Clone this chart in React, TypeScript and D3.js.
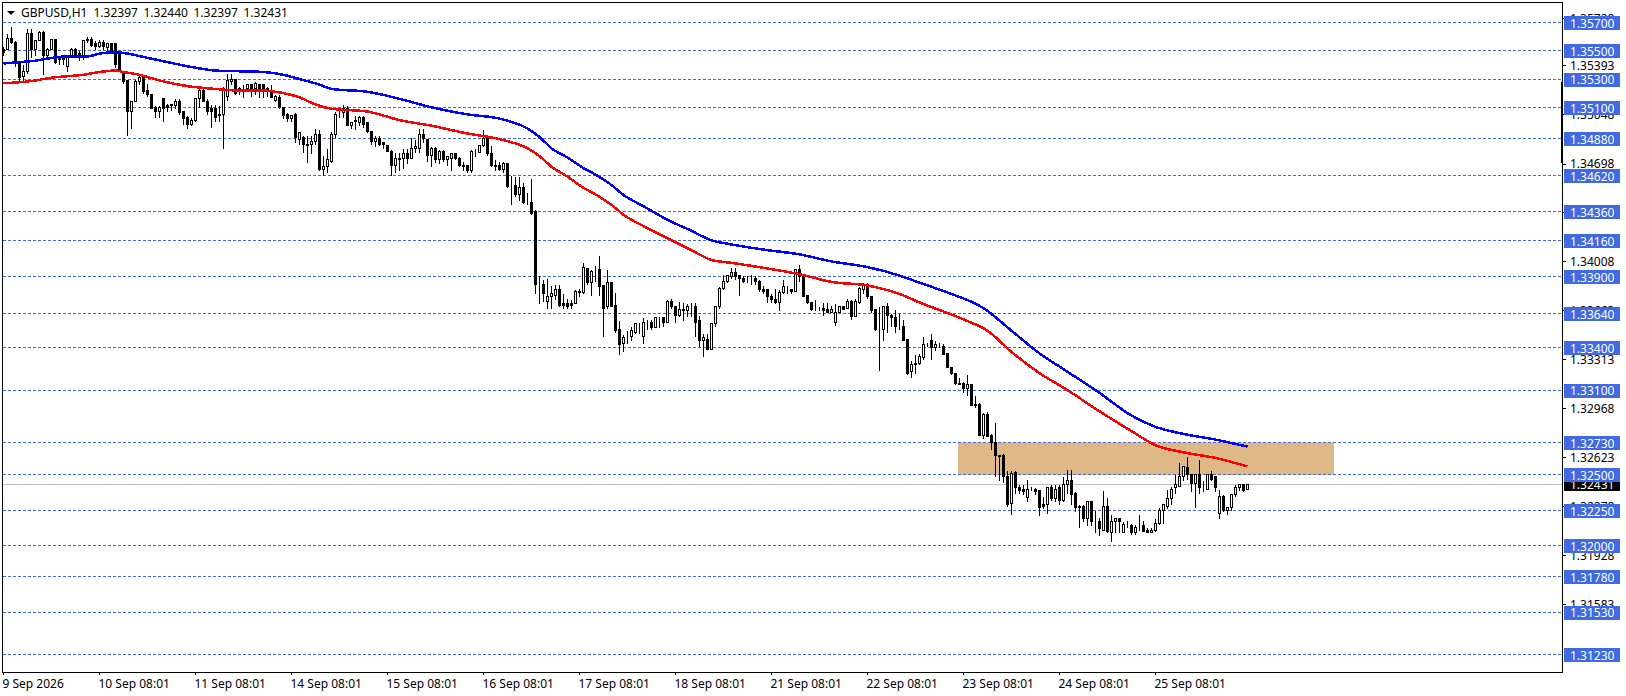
import * as d3 from "d3";

// prices are stored x 10000 (13551 = 1.3551), one row = 10 hourly bars
const opens = [
  13551,13551,13559,13556,13541,13532,13535,13562,13551,13557,
  13563,13547,13551,13558,13546,13546,13539,13546,13551,13548,
  13545,13557,13558,13555,13553,13556,13552,13555,13555,13548,
  13535,13529,13507,13514,13528,13531,13522,13519,13510,13507,
  13516,13511,13512,13511,13514,13507,13503,13498,13501,13516,
  13522,13514,13509,13509,13505,13505,13518,13528,13530,13523,
  13523,13523,13526,13523,13526,13526,13523,13522,13515,13517,
  13510,13505,13502,13505,13487,13489,13484,13484,13486,13491,
  13466,13468,13472,13491,13506,13506,13509,13497,13500,13499,
  13503,13499,13493,13486,13488,13485,13483,13479,13469,13474,
  13474,13477,13474,13481,13481,13491,13487,13476,13481,13473,
  13479,13473,13474,13477,13474,13469,13469,13465,13479,13478,
  13483,13489,13477,13469,13469,13466,13470,13455,13455,13448,
  13453,13443,13443,13436,13386,13385,13373,13376,13377,13381,
  13371,13371,13371,13371,13380,13379,13396,13386,13394,13395,
  13384,13369,13386,13370,13353,13343,13347,13348,13351,13357,
  13348,13358,13358,13354,13361,13361,13358,13373,13369,13363,
  13367,13366,13369,13369,13359,13345,13346,13339,13357,13369,
  13382,13387,13390,13393,13391,13389,13387,13388,13389,13387,
  13381,13381,13376,13374,13372,13379,13381,13381,13380,13395,
  13390,13377,13372,13367,13367,13368,13367,13365,13358,13365,
  13369,13368,13373,13362,13372,13381,13385,13376,13367,13353,
  13353,13369,13363,13361,13355,13355,13346,13323,13328,13329,
  13333,13342,13345,13340,13341,13341,13336,13326,13322,13315,
  13315,13311,13314,13300,13300,13278,13293,13278,13273,13264,
  13264,13249,13230,13252,13241,13240,13234,13241,13240,13239,
  13229,13229,13241,13233,13241,13232,13243,13246,13237,13228,
  13228,13219,13231,13217,13217,13211,13228,13209,13217,13219,
  13209,13215,13214,13209,13213,13214,13211,13209,13211,13216,
  13225,13228,13233,13241,13242,13249,13255,13250,13244,13250,
  13241,13240,13250,13249,13223,13235,13225,13227,13236,13241,13243,13240,
];
const closes = [
  13549,13559,13556,13541,13531,13535,13562,13551,13557,13563,
  13547,13551,13558,13542,13544,13544,13546,13551,13547,13546,
  13557,13558,13554,13553,13556,13553,13555,13549,13540,13535,
  13528,13507,13514,13528,13531,13521,13519,13509,13507,13510,
  13509,13510,13511,13514,13506,13502,13498,13501,13516,13522,
  13514,13507,13507,13503,13504,13522,13529,13530,13520,13522,
  13523,13526,13523,13527,13523,13523,13522,13517,13518,13510,
  13504,13502,13504,13489,13492,13484,13483,13486,13491,13466,
  13468,13473,13491,13505,13506,13509,13497,13499,13501,13503,
  13498,13493,13486,13488,13484,13484,13479,13469,13474,13473,
  13477,13474,13481,13482,13491,13488,13476,13481,13473,13479,
  13473,13475,13477,13474,13469,13468,13465,13479,13479,13483,
  13488,13477,13469,13468,13466,13470,13454,13455,13448,13453,
  13443,13443,13435,13385,13386,13378,13376,13378,13381,13370,
  13370,13369,13370,13380,13379,13397,13386,13394,13394,13383,
  13368,13386,13369,13352,13342,13347,13347,13352,13357,13357,
  13358,13358,13354,13361,13361,13358,13373,13369,13363,13367,
  13366,13369,13369,13358,13345,13347,13339,13357,13369,13382,
  13387,13391,13393,13390,13389,13387,13387,13388,13387,13381,
  13380,13376,13374,13372,13379,13383,13381,13380,13395,13390,
  13376,13372,13367,13367,13367,13366,13365,13367,13365,13369,
  13367,13373,13362,13373,13382,13385,13376,13366,13353,13353,
  13369,13363,13361,13355,13355,13345,13322,13328,13329,13334,
  13342,13342,13340,13342,13341,13335,13326,13322,13315,13314,
  13311,13314,13299,13299,13278,13293,13277,13273,13264,13263,
  13249,13229,13251,13241,13239,13238,13240,13241,13238,13227,
  13228,13241,13233,13240,13232,13243,13246,13236,13227,13227,
  13219,13231,13217,13217,13212,13228,13210,13217,13219,13217,
  13215,13215,13209,13213,13213,13210,13209,13211,13216,13225,
  13229,13233,13240,13243,13249,13256,13250,13244,13250,13241,
  13241,13250,13247,13241,13235,13225,13227,13236,13241,13243,13239,13243,
];
const highs = [
  13553,13562,13567,13557,13541,13540,13566,13566,13558,13564,
  13564,13552,13559,13559,13547,13547,13547,13552,13552,13550,
  13558,13560,13560,13557,13558,13558,13556,13556,13556,13549,
  13536,13530,13515,13530,13533,13533,13527,13519,13511,13511,
  13516,13513,13513,13516,13516,13507,13504,13503,13517,13525,
  13523,13516,13512,13512,13511,13525,13534,13534,13530,13525,
  13526,13527,13527,13528,13527,13527,13525,13526,13519,13519,
  13510,13506,13505,13506,13493,13490,13490,13490,13495,13494,
  13476,13481,13493,13507,13509,13512,13511,13499,13504,13504,
  13504,13499,13493,13490,13490,13486,13484,13480,13478,13478,
  13481,13481,13489,13487,13495,13495,13488,13482,13482,13480,
  13480,13475,13478,13478,13475,13472,13469,13480,13481,13484,
  13494,13490,13483,13473,13472,13472,13470,13462,13461,13461,
  13457,13450,13460,13438,13391,13388,13389,13384,13385,13385,
  13378,13375,13374,13381,13382,13400,13397,13395,13398,13405,
  13385,13395,13386,13379,13359,13349,13352,13355,13358,13358,
  13361,13360,13360,13362,13362,13361,13374,13375,13369,13373,
  13372,13371,13372,13372,13363,13350,13350,13358,13370,13383,
  13392,13392,13397,13397,13392,13391,13391,13392,13391,13388,
  13384,13382,13378,13382,13381,13388,13384,13382,13396,13399,
  13391,13377,13373,13374,13369,13372,13372,13370,13371,13370,
  13370,13375,13374,13375,13383,13386,13386,13377,13368,13369,
  13370,13372,13364,13367,13364,13360,13346,13331,13335,13336,
  13348,13344,13350,13345,13344,13343,13336,13326,13322,13319,
  13316,13321,13315,13306,13301,13294,13295,13279,13287,13264,
  13265,13253,13253,13253,13243,13243,13247,13242,13241,13240,
  13235,13242,13243,13243,13243,13249,13254,13254,13238,13229,
  13229,13232,13232,13225,13220,13239,13234,13222,13220,13220,
  13217,13218,13216,13215,13222,13218,13213,13213,13219,13227,
  13230,13240,13242,13250,13259,13257,13263,13251,13251,13261,
  13246,13251,13253,13249,13240,13236,13228,13237,13243,13244,13244,13244,
];
const lows = [
  13547,13551,13555,13539,13529,13528,13534,13545,13547,13557,
  13533,13545,13551,13541,13540,13540,13535,13546,13546,13543,
  13544,13556,13553,13551,13552,13551,13549,13548,13538,13535,
  13527,13490,13495,13514,13526,13520,13518,13509,13503,13503,
  13500,13507,13508,13509,13505,13498,13495,13497,13500,13510,
  13514,13505,13496,13500,13500,13481,13515,13526,13519,13519,
  13517,13522,13518,13519,13517,13517,13518,13517,13514,13509,
  13502,13500,13500,13485,13484,13478,13471,13477,13484,13465,
  13462,13464,13471,13489,13503,13503,13497,13495,13494,13497,
  13496,13492,13484,13482,13483,13481,13479,13462,13464,13465,
  13467,13470,13474,13478,13478,13485,13472,13468,13471,13470,
  13472,13469,13465,13473,13468,13465,13464,13464,13475,13478,
  13482,13476,13468,13465,13465,13464,13453,13441,13447,13444,
  13442,13441,13434,13378,13371,13373,13368,13368,13374,13369,
  13368,13368,13368,13371,13376,13378,13385,13377,13387,13377,
  13348,13368,13369,13351,13335,13337,13343,13345,13350,13350,
  13343,13353,13353,13354,13354,13355,13358,13368,13358,13362,
  13359,13362,13362,13348,13341,13334,13339,13339,13355,13368,
  13381,13386,13389,13388,13377,13386,13386,13385,13385,13380,
  13378,13372,13372,13371,13366,13378,13378,13378,13380,13387,
  13376,13371,13366,13366,13366,13363,13365,13365,13356,13365,
  13367,13368,13360,13362,13371,13378,13375,13365,13352,13324,
  13345,13351,13355,13351,13353,13345,13321,13319,13322,13328,
  13332,13341,13332,13338,13340,13335,13326,13321,13314,13314,
  13308,13306,13299,13298,13278,13276,13277,13268,13249,13246,
  13245,13228,13222,13237,13237,13236,13231,13239,13236,13221,
  13226,13223,13232,13231,13229,13231,13237,13229,13224,13213,
  13217,13214,13214,13209,13207,13211,13209,13203,13209,13209,
  13209,13213,13208,13208,13211,13210,13209,13209,13210,13215,
  13216,13226,13229,13237,13242,13246,13247,13238,13227,13237,
  13238,13240,13246,13238,13219,13224,13222,13225,13235,13239,13238,13240,
];

// moving averages, read at the bars where the line bends
const blueBars = [0,4,8,10,16,21,24,28,31,36,41,49,53,65,70,74,79,82,91,99,107,116,124,131,134,137,141,145,147,152,155,160,167,171,177,182,191,199,207,216,224,229,236,245,252,259,266,274,282,288,295,303,311];
const blueMa = [13541,13542,13543,13544,13546,13546,13548,13549,13548,13545,13542,13537.5,13536,13535,13533,13530,13526,13523,13521,13516,13510,13505,13502,13495,13489,13481,13474.5,13467,13464,13455,13448,13440,13429,13424,13416,13413,13409,13406,13401,13397,13391,13386,13379,13368,13352,13336,13323,13308,13292,13284,13279,13275,13270];
const redBars = [0,5,8,12,16,20,24,28,30,34,39,46,53,58,64,68,74,78,82,91,99,107,116,124,131,134,137,141,145,147,152,155,160,167,172,177,182,191,199,207,216,224,229,240,246,252,259,266,274,282,288,295,303,311];
const redMa = [13527,13528,13529,13531,13532,13533,13535,13536,13535,13533,13529,13525,13523,13522,13522,13521,13517,13512,13509,13507,13501,13497,13491.5,13487.5,13481,13475.5,13468,13461,13453,13450,13441,13434,13426,13416,13409,13402,13400,13396,13392,13386.5,13384,13378,13372,13360,13352,13337,13322,13310,13295,13281,13271,13266,13262,13256];

const levels = ["1.35700","1.35500","1.35300","1.35100","1.34880","1.34620","1.34360","1.34160","1.33900","1.33640","1.33400","1.33100","1.32730","1.32500","1.32250","1.32000","1.31780","1.31530","1.31230"];
const priceTicks = ["1.35728","1.35393","1.35048","1.34698","1.34353","1.34008","1.33663","1.33313","1.32968","1.32623","1.32278","1.31928","1.31583"];
const timeLabels = ["9 Sep 2026","10 Sep 08:01","11 Sep 08:01","14 Sep 08:01","15 Sep 08:01","16 Sep 08:01","17 Sep 08:01","18 Sep 08:01","21 Sep 08:01","22 Sep 08:01","23 Sep 08:01","24 Sep 08:01","25 Sep 08:01"];
const lastPrice = "1.32431";
const ohlcText = ["1.32397","1.32440","1.32397","1.32431"];
const zone = { from: 1.3273, to: 1.325, startBar: 239, endBar: 333 };

const width = 1626;
const height = 696;
const font = "'Noto Sans', sans-serif";
const fontSize = 12;
const levelColor = "#4169E1";

const x = d3.scaleLinear([0, 311], [3.5, 1247.5]);
const y = d3.scaleLinear([1.3123, 1.357], [654.5, 22.5]);
const py = (v: number) => y(v / 10000);
const snap = (v: number) => Math.floor(v) + 0.5;

const maLine = (bars: number[]) =>
  d3
    .line<number>((d, i) => x(bars[i]), py)
    .curve(d3.curveMonotoneX);

export default function App() {
  return (
    <svg
      width={width}
      height={height}
      style={{ position: "absolute", left: 0, top: 0, background: "#fff" }}
      fontFamily={font}
      fontSize={fontSize}
    >
      {/* supply zone */}
      <rect
        x={x(zone.startBar) - 1.5}
        width={x(zone.endBar) - x(zone.startBar)}
        y={y(zone.from)}
        height={y(zone.to) - y(zone.from)}
        fill="#DEB887"
      />

      {/* horizontal levels */}
      {levels.map((l) => (
        <line
          key={l}
          x1={3}
          x2={1562}
          y1={snap(y(+l))}
          y2={snap(y(+l))}
          stroke={levelColor}
          strokeDasharray="3 2"
          shapeRendering="crispEdges"
        />
      ))}
      <line
        x1={3}
        x2={1562}
        y1={snap(y(+lastPrice))}
        y2={snap(y(+lastPrice))}
        stroke="#C0C0C0"
        shapeRendering="crispEdges"
      />

      {/* candles */}
      <g shapeRendering="crispEdges">
        {opens.map((o, i) => {
          const c = closes[i];
          const cx = x(i);
          const top = snap(py(Math.max(o, c)));
          const bottom = snap(py(Math.min(o, c)));
          return (
            <g key={i}>
              <line x1={cx} x2={cx} y1={snap(py(highs[i]))} y2={snap(py(lows[i]))} stroke="#000" />
              <rect
                x={cx - 1}
                y={top}
                width={2}
                height={bottom - top}
                fill={c >= o ? "#fff" : "#000"}
                stroke="#000"
              />
            </g>
          );
        })}
      </g>

      {/* moving averages */}
      <path d={maLine(blueBars)(blueMa)!} fill="none" stroke="#0000FF" strokeWidth={2.5} shapeRendering="crispEdges" />
      <path d={maLine(redBars)(redMa)!} fill="none" stroke="#FF0000" strokeWidth={2.5} shapeRendering="crispEdges" />

      {/* frame */}
      <rect x={2.5} y={2.5} width={1560} height={670} fill="none" stroke="#000" shapeRendering="crispEdges" />
      <rect x={1561} y={82} width={2} height={81} fill="#000" />

      {/* price scale */}
      {priceTicks.map((t) => (
        <g key={t}>
          <line x1={1563} x2={1566} y1={snap(y(+t))} y2={snap(y(+t))} stroke="#000" shapeRendering="crispEdges" />
          <text x={1570} y={y(+t)} dy="0.36em" fill="#000">
            {t}
          </text>
        </g>
      ))}
      <rect x={1564} y={snap(y(+lastPrice)) - 7.5} width={56} height={14} fill="#000" />
      <text x={1570} y={y(+lastPrice)} dy="0.36em" fill="#fff">
        {lastPrice}
      </text>
      {levels.map((l) => (
        <g key={l}>
          <rect x={1564} y={snap(y(+l)) - 6.5} width={56} height={14} fill={levelColor} />
          <text x={1570} y={y(+l) + 1} dy="0.36em" fill="#fff">
            {l}
          </text>
        </g>
      ))}

      {/* time scale */}
      {timeLabels.map((t, k) => (
        <g key={t}>
          <line x1={x(k * 24)} x2={x(k * 24)} y1={673} y2={675} stroke="#000" shapeRendering="crispEdges" />
          <text x={x(k * 24) - 1} y={688} fill="#000">
            {t}
          </text>
        </g>
      ))}

      {/* header */}
      <path d={d3.line()([[7, 11], [15, 11], [11, 15]])!} fill="#000" />
      <text x={21} y={17} fill="#000">
        GBPUSD,H1
      </text>
      {ohlcText.map((t, k) => (
        <text key={k} x={93.5 + 50 * k} y={17} fill="#000">
          {t}
        </text>
      ))}
    </svg>
  );
}
